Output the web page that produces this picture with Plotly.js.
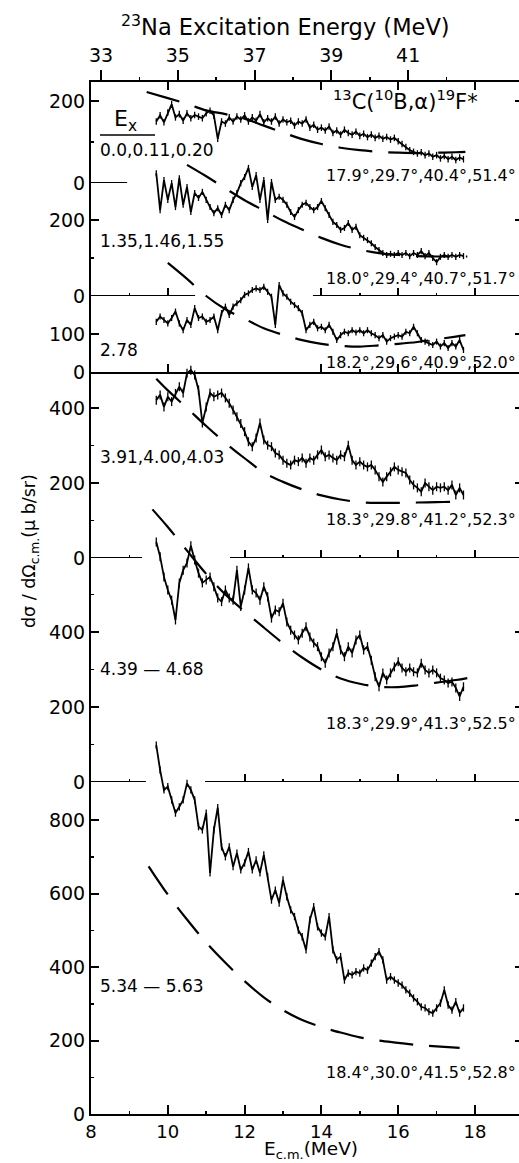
<!DOCTYPE html>
<html><head><meta charset="utf-8">
<script src="https://cdn.plot.ly/plotly-3.0.1.min.js"></script>
<style>html,body{margin:0;padding:0;overflow:hidden;background:#fff}#chart{width:523px;height:1163px}</style>
</head><body><div id="chart"></div>
<script>
// ---------- data ----------
const ecm = [9.7,9.8,9.9,10.0,10.1,10.2,10.3,10.4,10.5,10.6,10.7,10.8,10.9,11.0,11.1,11.2,11.3,11.4,11.5,11.6,
 11.7,11.8,11.9,12.0,12.1,12.2,12.3,12.4,12.5,12.6,12.7,12.8,12.9,13.0,13.1,13.2,13.3,13.4,13.5,13.6,
 13.7,13.8,13.9,14.0,14.1,14.2,14.3,14.4,14.5,14.6,14.7,14.8,14.9,15.0,15.1,15.2,15.3,15.4,15.5,15.6,
 15.7,15.8,15.9,16.0,16.1,16.2,16.3,16.4,16.5,16.6,16.7,16.8,16.9,17.0,17.1,17.2,17.3,17.4,17.5,17.6,17.7];

const sigmaEx000 = [150,165,148,172,192,160,168,152,170,158, 166,162,158,170,176,165,108,150,145,160,
 150,162,155,165,150,160,152,168,148,158, 150,162,145,155,148,152,140,150,145,155,
 135,142,130,135,128,138,122,128,118,130, 122,118,125,115,120,112,118,110,115,108,
 112,106,110,102,95,88,80,76,72,75, 68,72,64,68,60,66,58,64,56,62, 58];
const sigmaEx135 = [323,226,305,253,297,234,310,240,287,221, 271,258,274,253,234,218,231,213,240,226,
 253,271,297,313,337,287,318,253,305,200, 300,253,261,253,240,221,208,226,240,245,
 234,226,234,250,231,213,195,187,174,179, 192,174,182,160,153,147,139,129,121,113,
 108,111,108,113,108,113,105,113,108,118, 105,113,100,89,103,108,103,108,103,108, 105];
const sigmaEx278 = [132,146,137,128,142,159,128,110,137,124, 168,142,146,132,137,146,110,155,172,150,
 172,181,189,203,207,216,220,216,224,211, 198,124,229,207,198,185,176,168,155,110,
 124,132,115,119,110,124,106,84,97,106, 102,110,104,110,102,110,102,97,89,97,
 80,89,93,97,93,106,102,119,102,84, 80,76,71,80,67,76,63,76,67,84, 58];
const sigmaEx391 = [421,435,403,430,417,439,457,440,493,501, 488,448,360,403,440,430,435,440,427,413,
 395,377,359,337,310,297,320,360,315,301, 297,280,275,261,253,248,261,257,267,253,
 267,261,275,288,270,275,267,261,275,270, 301,261,248,257,248,243,248,235,217,203,
 217,230,243,235,230,227,208,195,187,177, 200,190,181,190,187,190,181,195,168,187, 168];
const sigmaEx439 = [640,601,547,512,485,432,531,565,584,630, 592,557,531,539,547,521,491,481,512,491,
 485,565,468,512,571,512,504,485,521,494, 437,459,454,477,427,405,392,379,397,414,
 387,371,361,334,317,344,361,397,352,334, 361,344,379,392,352,361,325,281,254,291,
 272,291,307,321,304,294,304,294,291,317, 299,291,299,291,277,272,264,267,251,228, 254];
const sigmaEx534 = [1005,937,883,892,856,820,837,856,901,883, 856,783,774,820,657,774,835,728,701,728,
 674,711,665,684,715,665,692,657,706,647, 583,610,575,638,592,556,538,501,483,447,
 529,565,510,493,483,538,447,420,429,365, 384,379,388,384,398,392,411,429,442,420,
 365,374,365,357,351,338,329,316,306,292, 289,279,275,289,302,338,297,283,306,275, 289];

// calculated (dashed) curves
const calcE000 = [9.45,10.0,10.5,11.0,11.5,12.0,12.5,13.0,13.5,14.0,14.5,15.0,15.5,16.0,16.5,17.0,17.5,17.75];
const calc000  = [222,207,193,177,168,157,140,123,107,95,86,80,76,74,73,74,75,76];
const calcE135 = [10.5,11.0,11.5,12.0,12.5,13.0,13.5,14.0,14.5,15.0,15.5,16.0,16.5,17.0,17.5,17.8];
const calc135  = [345,315,283,252,225,198,175,153,135,122,113,108,105,104,104,104];
const calcE278 = [10.0,10.5,11.0,11.5,12.0,12.5,13.0,13.5,14.0,14.5,15.0,15.5,16.0,16.5,17.0,17.5,17.75];
const calc278  = [287,245,200,165,140,115,98,84,74,69,67,70,74,79,86,93,97];
const calcE391 = [9.7,10.0,10.5,11.0,11.5,12.0,12.5,13.0,13.5,14.0,14.5,15.0,15.5,16.0,16.5,17.0,17.5,17.75];
const calc391  = [478,447,400,352,307,266,228,203,183,167,156,149,147,147,148,149,150,150];
const calcE439 = [9.6,10.0,10.5,11.0,11.5,12.0,12.5,13.0,13.5,14.0,14.5,15.0,15.5,16.0,16.5,17.0,17.5,17.95];
const calc439  = [727,680,617,555,500,455,412,370,332,300,276,262,254,253,258,265,272,280];
const calcE534 = [9.5,10.0,10.5,11.0,11.5,12.0,12.5,13.0,13.5,14.0,14.5,15.0,15.5,16.0,16.5,17.0,17.6];
const calc534  = [675,598,530,467,412,362,318,283,256,237,222,209,200,194,188,184,180];

const stateLabels = ["0.0,0.11,0.20","1.35,1.46,1.55","2.78","3.91,4.00,4.03","4.39 \u2014 4.68","5.34 \u2014 5.63"];
const angleLabels = ["17.9°,29.7°,40.4°,51.4°","18.0°,29.4°,40.7°,51.7°","18.2°,29.6°,40.9°,52.0°",
                     "18.3°,29.8°,41.2°,52.3°","18.3°,29.9°,41.3°,52.5°","18.4°,30.0°,41.5°,52.8°"];
const ecmTicks = [8,10,12,14,16,18];
const ecmMinorTicks = [9,11,13,15,17];
const exTicks = [33,35,37,39,41];
const exMinorTicks = [34,36,38,40,42];
const exOffset = 24.74;   // E_x(23Na) = E_c.m. + Q
const yMajor = [[0,200],[0,200],[0,100],[0,200,400],[0,200,400],[0,200,400,600,800]];
const yMinor = [[100],[100],[],[100,300],[100,300,500],[100,300,500,700]];

// ---------- geometry ----------
const W=523,H=1163,L=91,T=82,B=49,PH=H-T-B,PW=W-L;
const pxPerMeV = 38.4;
const xRange = [8, 8+PW/pxPerMeV];
const zeroPx = [183,296,372,558,782,1114];
const pxPerUnit = [0.41,0.38,0.38,0.375,0.375,0.367];
const errSize = [8,8,8,12,12,10];
const PX = p => (p-L)/PW, PY = p => (H-B-p)/PH;
const FONT = 'DejaVu Sans';

const series = [sigmaEx000,sigmaEx135,sigmaEx278,sigmaEx391,sigmaEx439,sigmaEx534];
const calcX = [calcE000,calcE135,calcE278,calcE391,calcE439,calcE534];
const calcY = [calc000,calc135,calc278,calc391,calc439,calc534];

const yid = k => k===0 ? 'y' : 'y'+(k+1);
const xid = k => k===5 ? 'x' : 'x'+(k+2);
const lay = id => id.replace('x','xaxis').replace('y','yaxis');

const traces = [];
const layout = {
  width:W, height:H, margin:{l:L,r:0,t:T,b:B,pad:0}, showlegend:false,
  paper_bgcolor:'white', plot_bgcolor:'rgba(0,0,0,0)',
  font:{family:FONT,size:19,color:'black'}, shapes:[], annotations:[]
};

for (let k=0;k<6;k++){
  traces.push({type:'scatter',mode:'lines',x:ecm,y:series[k],xaxis:xid(k),yaxis:yid(k),
    line:{color:'black',width:1.8},
    error_y:{type:'constant',value:errSize[k],thickness:1.3,width:0,color:'black'},hoverinfo:'skip'});
  traces.push({type:'scatter',mode:'lines',x:calcX[k],y:calcY[k],xaxis:xid(k),yaxis:yid(k),
    line:{color:'black',width:2.2,dash:'34px,16px',shape:'spline',smoothing:1},hoverinfo:'skip'});
  const ya = {
    domain:[(H-B-zeroPx[k])/PH,1], range:[0,(zeroPx[k]-T)/pxPerUnit[k]], anchor:xid(k),
    showline:true, linewidth:2, linecolor:'black', mirror:'ticks',
    ticks:'inside', ticklen:8, tickwidth:2, tickcolor:'black',
    tickmode:'array', tickvals:yMajor[k], ticktext:yMajor[k].map(String),
    showgrid:false, zeroline:false, tickfont:{family:FONT,size:19}
  };
  if (yMinor[k].length) ya.minor = {tickmode:'array',tickvals:yMinor[k],ticks:'inside',ticklen:3,tickwidth:1.5,tickcolor:'black',showgrid:false};
  layout[lay(yid(k))] = ya;
}

// x axes: separators and bottom
const sepMajor = {x2:[], x3:[10,14,16,18], x4:[10,14,16,18], x5:[12,14,16,18], x6:[12,14,16,18]};
const sepMinor = {x2:[], x3:[9,15,17], x4:[15,17], x5:[9,13,15,17], x6:[9,13,15,17]};
for (let k=0;k<5;k++){
  const id = xid(k);
  layout[lay(id)] = {
    matches:'x', anchor:yid(k), range:xRange, showline:(k===2), linewidth:2, linecolor:'black',
    ticks: sepMajor[id].length ? 'inside' : '', ticklen:8, tickwidth:2, tickcolor:'black',
    tickmode:'array', tickvals:sepMajor[id], showticklabels:false, showgrid:false, zeroline:false,
    minor: sepMinor[id].length ? {tickmode:'array',tickvals:sepMinor[id],ticks:'inside',ticklen:3,tickwidth:1.5,tickcolor:'black',showgrid:false} : undefined
  };
}
layout.xaxis = {
  anchor:'y6', range:xRange, showline:true, linewidth:2, linecolor:'black',
  ticks:'inside', ticklen:9, tickwidth:2, tickcolor:'black',
  tickmode:'array', tickvals:ecmTicks, ticktext:ecmTicks.map(String),
  minor:{tickmode:'array',tickvals:ecmMinorTicks,ticks:'inside',ticklen:3,tickwidth:1.5,tickcolor:'black',showgrid:false},
  showgrid:false, zeroline:false, tickfont:{family:FONT,size:18}
};
// top frame with E_c.m. ticks pointing inward
layout.xaxis7 = {
  overlaying:'x2', matches:'x', anchor:'y', side:'top', range:xRange,
  showline:true, linewidth:2, linecolor:'black', ticks:'inside', ticklen:8, tickwidth:2, tickcolor:'black',
  tickmode:'array', tickvals:ecmTicks.slice(1), showticklabels:false, showgrid:false, zeroline:false
};
// 23Na excitation energy scale
layout.xaxis8 = {
  overlaying:'x2', anchor:'y', side:'top', range:[xRange[0]+exOffset, xRange[1]+exOffset],
  showline:false, ticks:'outside', ticklen:11, tickwidth:2, tickcolor:'black',
  tickmode:'array', tickvals:exTicks, ticktext:exTicks.map(String),
  minor:{tickmode:'array',tickvals:exMinorTicks,ticks:'outside',ticklen:4,tickwidth:1.5,tickcolor:'black',showgrid:false},
  showgrid:false, zeroline:false, tickfont:{family:FONT,size:19}
};
traces.push({type:'scatter',x:[],y:[],xaxis:'x7',yaxis:'y',hoverinfo:'skip'});
traces.push({type:'scatter',x:[],y:[],xaxis:'x8',yaxis:'y',hoverinfo:'skip'});

// broken separator lines (zero lines of upper panels)
const seg = (xr,yr,a,b) => ({type:'line',xref:xr,yref:yr,x0:a,x1:b,y0:0,y1:0,line:{color:'black',width:2}});
layout.shapes.push(seg('x2','y',8,8.94));
layout.shapes.push(seg('x3','y2',8,10.71), seg('x3','y2',13.78,xRange[1]));
layout.shapes.push(seg('x5','y4',8,9.33), seg('x5','y4',11.62,xRange[1]));
layout.shapes.push(seg('x6','y5',8,9.43), seg('x6','y5',10.97,xRange[1]));
// fraction bar under E_x
layout.shapes.push({type:'line',xref:'paper',yref:'paper',x0:PX(100),x1:PX(155),y0:PY(135),y1:PY(135),line:{color:'black',width:1.5}});

// annotations
const ann = (text,px,py,size,extra) => Object.assign({text,xref:'paper',yref:'paper',x:PX(px),y:PY(py),
  xanchor:'left',yanchor:'middle',showarrow:false,font:{family:FONT,size:size,color:'black'}},extra||{});
layout.annotations.push(ann('<sup>23</sup>Na Excitation Energy (MeV)',285,26,22.5,{xanchor:'center'}));
layout.annotations.push(ann('E<sub>c.m.</sub>(MeV)',311,1150,18.5,{xanchor:'center',borderpad:0}));
layout.annotations.push(ann('<sup>13</sup>C(<sup>10</sup>B,α)<sup>19</sup>F*',331,100,21));
layout.annotations.push(ann('E<sub>x</sub>',112,121,22));
const stateY = [150,241,350,457,669,986];
const angleY = [175,278,362,519,723,1072];
for (let k=0;k<6;k++){
  layout.annotations.push(ann(stateLabels[k],98,stateY[k],17));
  layout.annotations.push(ann(angleLabels[k],324,angleY[k],16));
}
layout.annotations.push(ann('dσ / dΩ<sub>c.m.</sub>(μ b/sr)',30,551,17.5,{xanchor:'center',textangle:-90}));

Plotly.newPlot('chart',traces,layout,{staticPlot:true,displayModeBar:false});
</script></body></html>
